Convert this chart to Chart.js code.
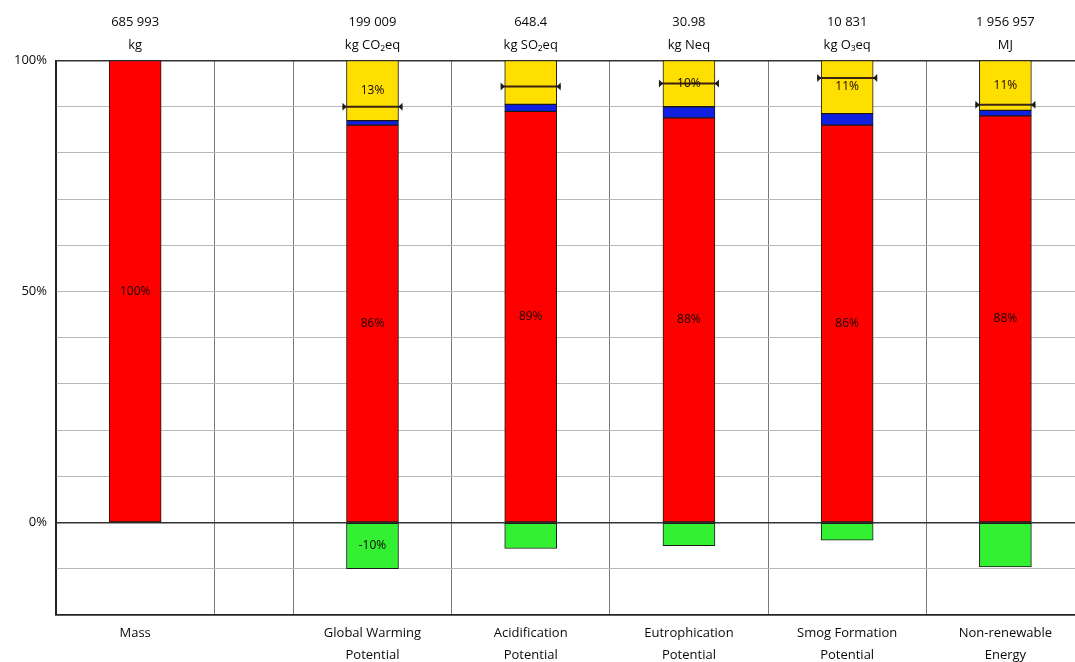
<!DOCTYPE html>
<html>
<head>
<meta charset="utf-8">
<title>Impact shares</title>
<script src="https://cdn.jsdelivr.net/npm/chart.js@4/dist/chart.umd.min.js"></script>
<style>
  html, body { margin: 0; padding: 0; background: #fff; }
  #wrap { position: relative; width: 1075px; height: 662px; }
</style>
</head>
<body>
<div id="wrap"><canvas id="chartCanvas"></canvas></div>
<script>
// category names (bottom) and totals + units (top)
var categories = ['Mass', ['Global Warming', 'Potential'], ['Acidification', 'Potential'],
  ['Eutrophication', 'Potential'], ['Smog Formation', 'Potential'], ['Non-renewable', 'Energy']];
var totals = ['685 993', '199 009', '648.4', '30.98', '10 831', '1 956 957'];
var units = ['kg', 'kg CO\u2082eq', 'kg SO\u2082eq', 'kg Neq', 'kg O\u2083eq', 'MJ'];

// stacked shares, percent of total
var redValues = [100, 86, 89, 87.6, 86, 88];
var blueValues = [null, 1, 1.5, 2.4, 2.5, 1.2];
var yellowValues = [null, 13, 9.5, 10, 11.5, 10.8];
var greenValues = [null, -10, -5.6, -5, -3.8, -9.6];
var netValues = [null, 90, 94.4, 95, 96.2, 90.4];

// text printed inside the segments
var redLabels = ['100%', '86%', '89%', '88%', '86%', '88%'];
var yellowLabels = ['', '13%', '', '10%', '11%', '11%'];
var greenLabels = ['', '-10%', '', '', '', ''];

// y tick labels shown
var yTickLabels = [0, 50, 100];

(function() {

  // slot layout on the x scale: Mass slot, half-width gap, then five slots
  var slotCenters = [0.5, 2, 3, 4, 5, 6];
  var slotEdges = [0, 1, 1.5, 2.5, 3.5, 4.5, 5.5];
  var FONT = '"Open Sans", "Liberation Sans", sans-serif';

  function points(values) {
    return values.map(function(v, i) { return { x: slotCenters[i], y: v }; });
  }

  function barSet(label, values, color, texts) {
    return {
      type: 'bar',
      label: label,
      data: points(values),
      backgroundColor: color,
      borderColor: '#1a1a1a',
      borderWidth: 1,
      borderSkipped: false,
      barThickness: 52,
      stack: 'shares',
      order: 1,
      texts: texts || null
    };
  }

  var segmentText = {
    id: 'segmentText',
    afterDatasetsDraw: function(chart) {
      var ctx = chart.ctx;
      ctx.save();
      ctx.font = '12px ' + FONT;
      ctx.fillStyle = '#140600';
      ctx.textAlign = 'center';
      ctx.textBaseline = 'middle';
      chart.data.datasets.forEach(function(ds, di) {
        if (!ds.texts) return;
        var meta = chart.getDatasetMeta(di);
        meta.data.forEach(function(el, i) {
          var t = ds.texts[i];
          if (!t || ds.data[i].y == null) return;
          ctx.fillText(t, el.x, (el.y + el.base) / 2);
        });
      });
      ctx.restore();
    }
  };

  // small arrow caps on the ends of the net markers
  var netCaps = {
    id: 'netCaps',
    afterDatasetsDraw: function(chart) {
      var ctx = chart.ctx;
      chart.data.datasets.forEach(function(ds, di) {
        if (!ds.caps) return;
        var meta = chart.getDatasetMeta(di);
        ctx.save();
        ctx.fillStyle = '#1a1a1a';
        meta.data.forEach(function(el, i) {
          if (ds.data[i].y == null) return;
          var r = ds.pointRadius;
          ctx.beginPath();
          ctx.moveTo(el.x - r, el.y - 4);
          ctx.lineTo(el.x - r + 4, el.y);
          ctx.lineTo(el.x - r, el.y + 4);
          ctx.closePath();
          ctx.fill();
          ctx.beginPath();
          ctx.moveTo(el.x + r, el.y - 4);
          ctx.lineTo(el.x + r - 4, el.y);
          ctx.lineTo(el.x + r, el.y + 4);
          ctx.closePath();
          ctx.fill();
        });
        ctx.restore();
      });
    }
  };

  var xTicks = slotEdges.concat(slotCenters).sort(function(a, b) { return a - b; });

  var config = {
    type: 'bar',
    data: {
      datasets: [
        barSet('Main', redValues, '#ff0000', redLabels),
        barSet('Minor', blueValues, '#1020e0'),
        barSet('Other', yellowValues, '#ffdf00', yellowLabels),
        barSet('Credit', greenValues, '#33f033', greenLabels),
        {
          type: 'line',
          label: 'Net',
          data: points(netValues),
          showLine: false,
          pointStyle: 'line',
          pointRadius: 30,
          pointHoverRadius: 30,
          pointBorderWidth: 2,
          borderColor: '#3a2410',
          backgroundColor: '#3a2410',
          stack: 'net',
          order: 0,
          caps: true
        }
      ]
    },
    options: {
      responsive: true,
      maintainAspectRatio: false,
      animation: false,
      layout: { autoPadding: false, padding: { left: 5, top: 7, right: 0, bottom: 0 } },
      plugins: {
        legend: { display: false },
        tooltip: { enabled: false }
      },
      scales: {
        x: {
          type: 'linear',
          position: 'bottom',
          offset: false,
          min: 0,
          max: 6.44,
          afterBuildTicks: function(axis) {
            axis.ticks = xTicks.map(function(v) { return { value: v }; });
          },
          afterFit: function(axis) { axis.height = 47; },
          ticks: {
            autoSkip: false,
            maxRotation: 0,
            padding: 7,
            color: '#0a0a0a',
            font: { family: FONT, size: 13, lineHeight: 1.7 },
            callback: function(v) {
              var i = slotCenters.indexOf(v);
              return i >= 0 ? categories[i] : '';
            }
          },
          grid: {
            offset: false,
            drawTicks: false,
            lineWidth: 1,
            color: function(c) {
              if (!c.tick) return 'transparent';
              if (c.tick.value === 0) return '#222';
              return slotEdges.indexOf(c.tick.value) >= 0 ? '#7a7a7a' : 'transparent';
            }
          },
          border: { display: true, color: '#222', width: 1.5 }
        },
        top: {
          type: 'linear',
          position: 'top',
          offset: false,
          min: 0,
          max: 6.44,
          afterBuildTicks: function(axis) {
            axis.ticks = slotCenters.map(function(v) { return { value: v }; });
          },
          ticks: {
            autoSkip: false,
            maxRotation: 0,
            padding: 4,
            color: '#0a0a0a',
            font: { family: FONT, size: 13, lineHeight: 1.75 },
            callback: function(v) {
              var i = slotCenters.indexOf(v);
              return i >= 0 ? [totals[i], units[i]] : '';
            }
          },
          grid: { display: false, drawTicks: false },
          border: { display: false }
        },
        y: {
          stacked: true,
          min: -20,
          max: 100,
          ticks: {
            stepSize: 10,
            padding: 9,
            color: '#0a0a0a',
            font: { family: FONT, size: 13 },
            callback: function(v) {
              return yTickLabels.indexOf(v) >= 0 ? v + '%' : '';
            }
          },
          grid: {
            drawTicks: false,
            color: function(c) {
              var v = c.tick ? c.tick.value : null;
              if (v === 0 || v === 100 || v === -20) return '#333';
              return '#b8b8b8';
            },
            lineWidth: function(c) {
              var v = c.tick ? c.tick.value : null;
              return (v === 0 || v === 100 || v === -20) ? 1.5 : 1;
            }
          },
          border: { display: true, color: '#222', width: 1.5 }
        }
      }
    },
    plugins: [segmentText, netCaps]
  };

  new Chart(document.getElementById('chartCanvas').getContext('2d'), config);

})();
</script>
</body>
</html>
